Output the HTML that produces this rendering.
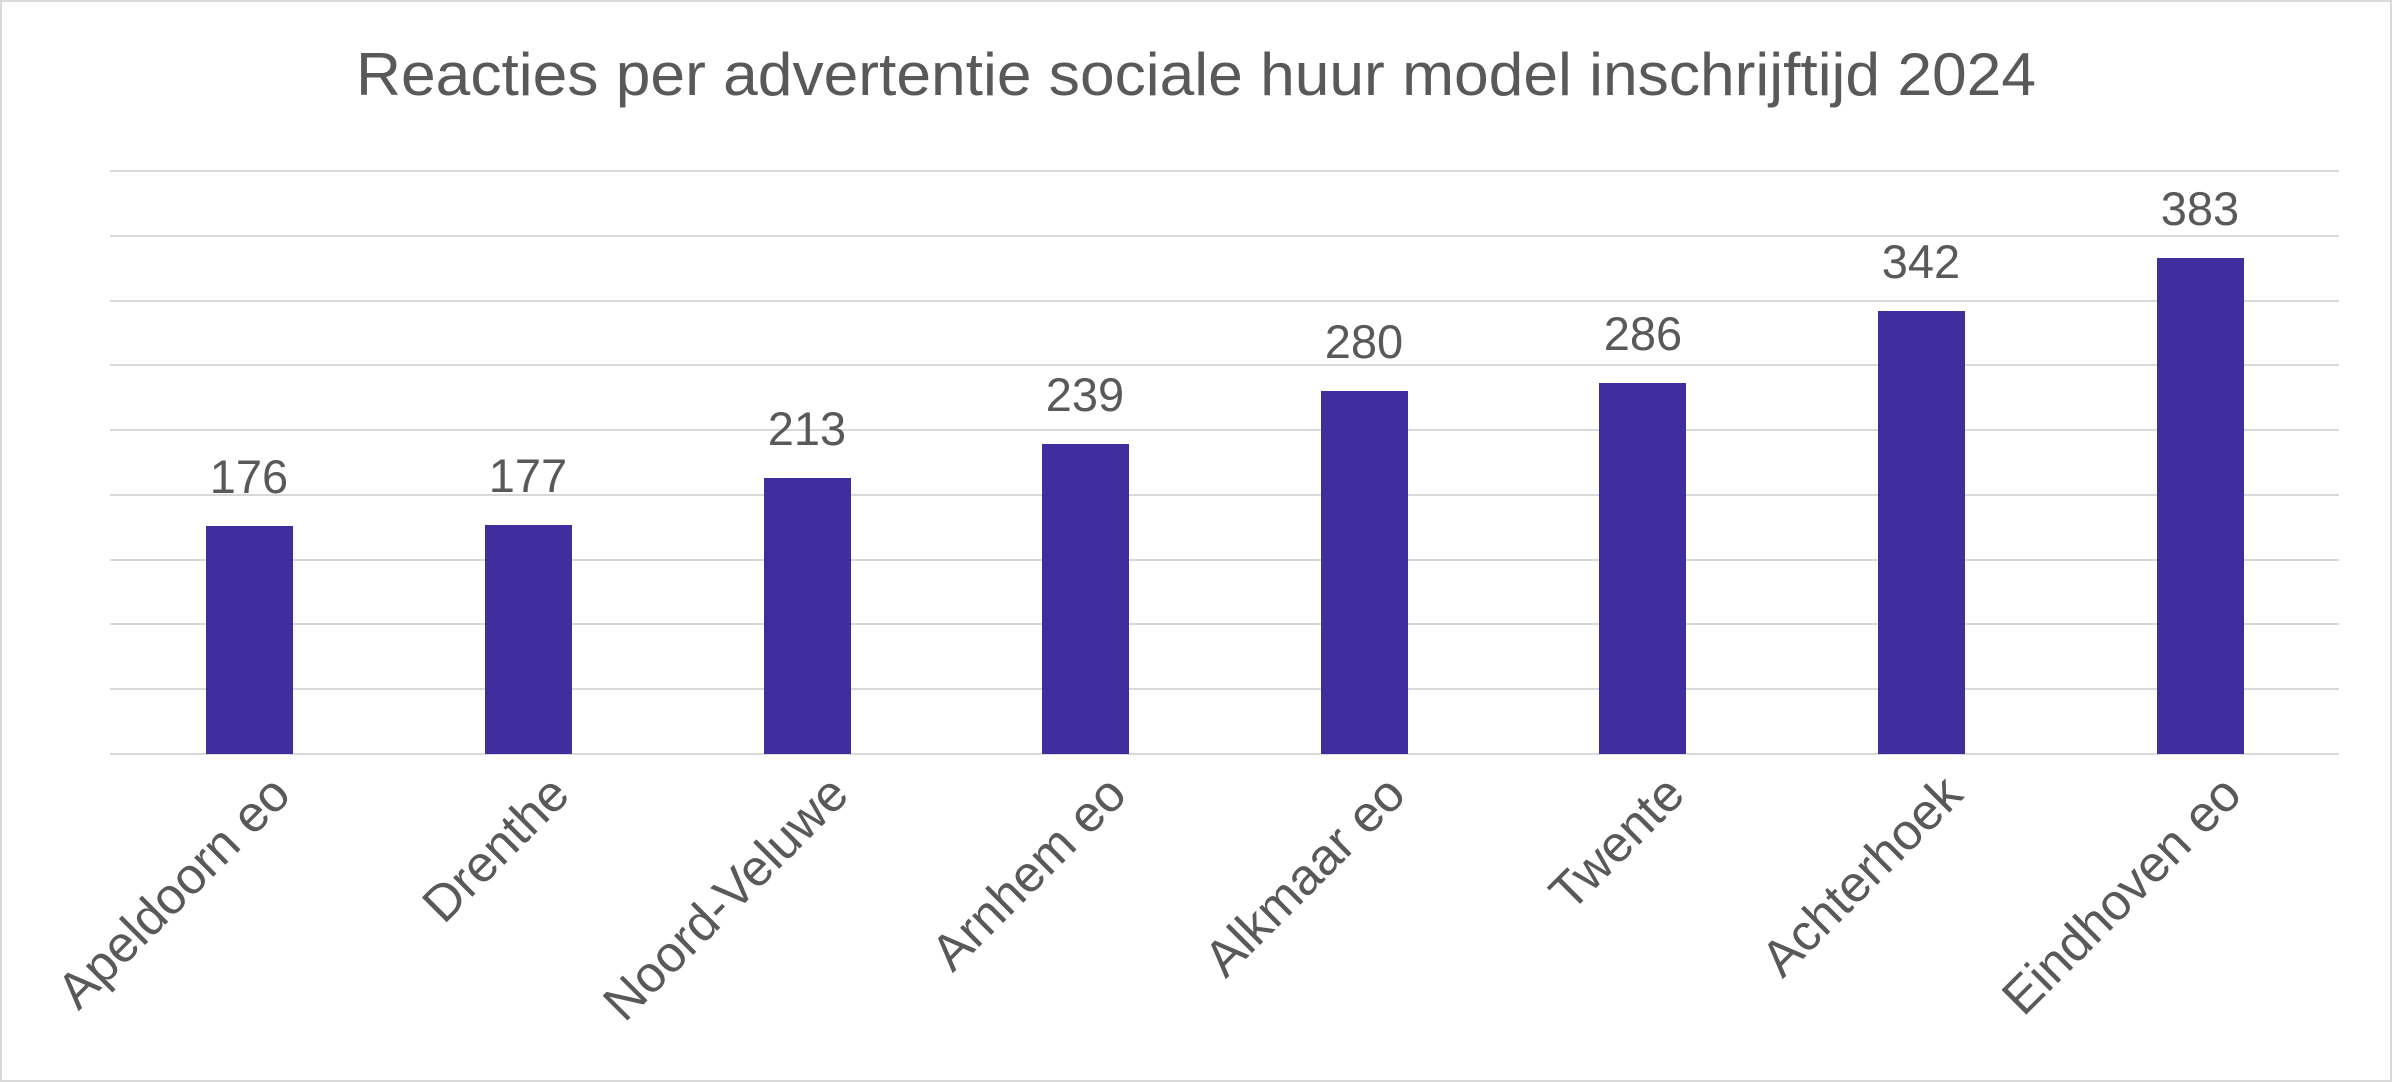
<!DOCTYPE html>
<html><head><meta charset="utf-8"><style>
html,body{margin:0;padding:0;background:#fff}
svg{display:block}
text{font-family:"Liberation Sans",sans-serif;fill:#595959}
</style></head><body>
<svg width="2392" height="1082" viewBox="0 0 2392 1082" xmlns="http://www.w3.org/2000/svg">
<rect x="1" y="1" width="2390" height="1080" fill="#fff" stroke="#d9d9d9" stroke-width="2"/>
<text x="1196" y="95" font-size="60" text-anchor="middle" textLength="1680" lengthAdjust="spacingAndGlyphs">Reacties per advertentie sociale huur model inschrijftijd 2024</text>
<g stroke="#d9d9d9" stroke-width="2">
<line x1="110" x2="2339" y1="171" y2="171"/>
<line x1="110" x2="2339" y1="236" y2="236"/>
<line x1="110" x2="2339" y1="301" y2="301"/>
<line x1="110" x2="2339" y1="365" y2="365"/>
<line x1="110" x2="2339" y1="430" y2="430"/>
<line x1="110" x2="2339" y1="495" y2="495"/>
<line x1="110" x2="2339" y1="560" y2="560"/>
<line x1="110" x2="2339" y1="624" y2="624"/>
<line x1="110" x2="2339" y1="689" y2="689"/>
<line x1="110" x2="2339" y1="754" y2="754"/>
</g>
<g fill="#402E9E">
<rect x="206" y="526" width="87" height="228"/>
<rect x="485" y="525" width="87" height="229"/>
<rect x="764" y="478" width="87" height="276"/>
<rect x="1042" y="444" width="87" height="310"/>
<rect x="1321" y="391" width="87" height="363"/>
<rect x="1599" y="383" width="87" height="371"/>
<rect x="1878" y="311" width="87" height="443"/>
<rect x="2157" y="258" width="87" height="496"/>
</g>
<g font-size="47" text-anchor="middle">
<text x="249" y="493">176</text>
<text x="528" y="492">177</text>
<text x="807" y="445">213</text>
<text x="1085" y="411">239</text>
<text x="1364" y="358">280</text>
<text x="1643" y="350">286</text>
<text x="1921" y="278">342</text>
<text x="2200" y="225">383</text>
</g>
<g font-size="51" text-anchor="end">
<text transform="translate(293,797) rotate(-45)">Apeldoorn eo</text>
<text transform="translate(572,797) rotate(-45)">Drenthe</text>
<text transform="translate(851,797) rotate(-45)">Noord-Veluwe</text>
<text transform="translate(1129,797) rotate(-45)">Arnhem eo</text>
<text transform="translate(1408,797) rotate(-45)">Alkmaar eo</text>
<text transform="translate(1687,797) rotate(-45)">Twente</text>
<text transform="translate(1965,797) rotate(-45)">Achterhoek</text>
<text transform="translate(2244,797) rotate(-45)">Eindhoven eo</text>
</g>
</svg>
</body></html>
